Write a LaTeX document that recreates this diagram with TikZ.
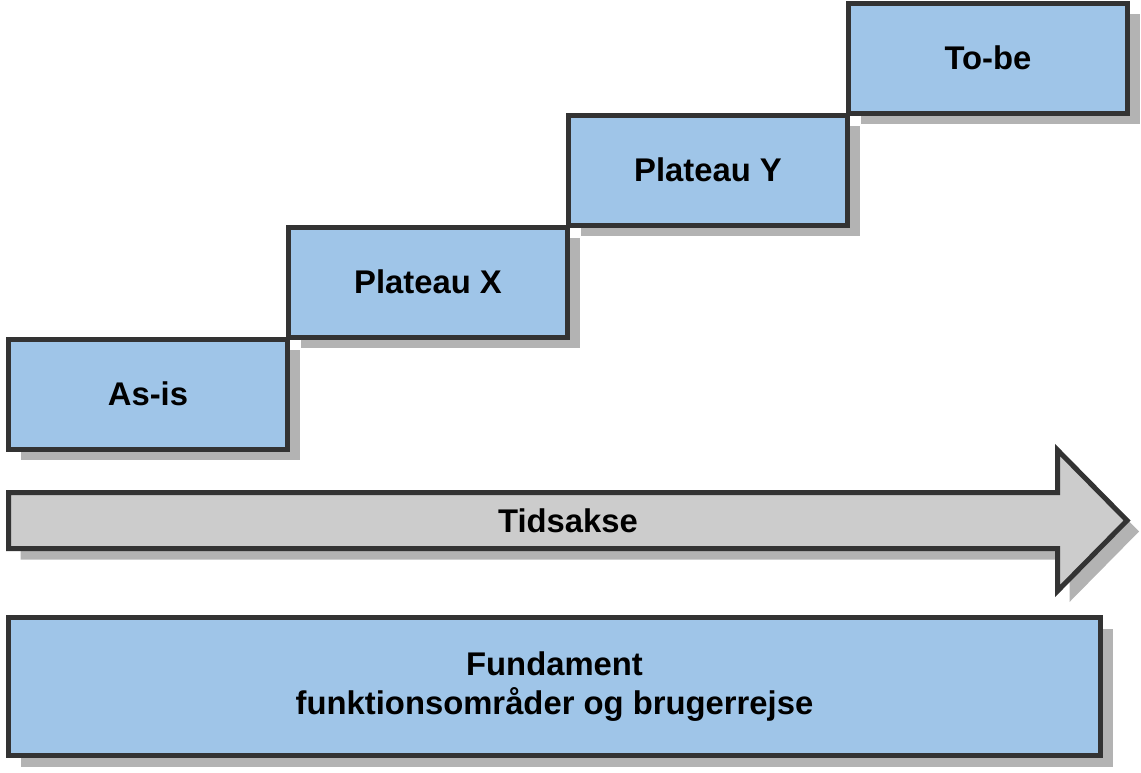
\documentclass[tikz,border=0pt]{standalone}
\usepackage{fontspec}
\setmainfont{Liberation Sans}
\usetikzlibrary{shadows}

\definecolor{boxblue}{HTML}{9FC5E8}
\definecolor{axisgray}{HTML}{CCCCCC}
\definecolor{edgegray}{HTML}{333333}
\definecolor{shadowgray}{HTML}{B3B3B3}

\tikzset{
    boxshadow/.style={drop shadow={shadow xshift=12pt, shadow yshift=-11pt, fill=shadowgray, opacity=1}},
    stepbox/.style={draw=edgegray, line width=5pt, fill=boxblue, minimum width=279pt, minimum height=110pt, inner sep=0pt, boxshadow},
    bigfont/.style={font=\fontsize{32.8}{39.5}\selectfont\bfseries}
}

\begin{document}
\begin{tikzpicture}[x=1pt, y=-1pt, bigfont]
    \useasboundingbox (0,0) rectangle (1141,772);

    % Draw the steps
    \foreach \n/\x/\y/\t in {asis/148/394/As-is, platx/428/282/Plateau X, platy/708/170/Plateau Y, tobe/988/58/To-be} {
      \node[stepbox] (\n) at (\x,\y) {\t};
    }

    % Draw time axis
    \draw[draw=edgegray, line width=5pt, fill=axisgray, boxshadow]
      (8.5,492.5) -- (1057.5,492.5) -- (1057.5,450) -- (1127,520.5)
      -- (1057.5,591) -- (1057.5,548.5) -- (8.5,548.5) -- cycle;
    \node (axis) at (568,520.5) {Tidsakse};

    % Draw foundation
    \node[stepbox, minimum width=1092pt, minimum height=138pt, align=center] (fundament) at (554.5,686.5)
      {Fundament\\funktionsområder og brugerrejse};

\end{tikzpicture}
\end{document}
